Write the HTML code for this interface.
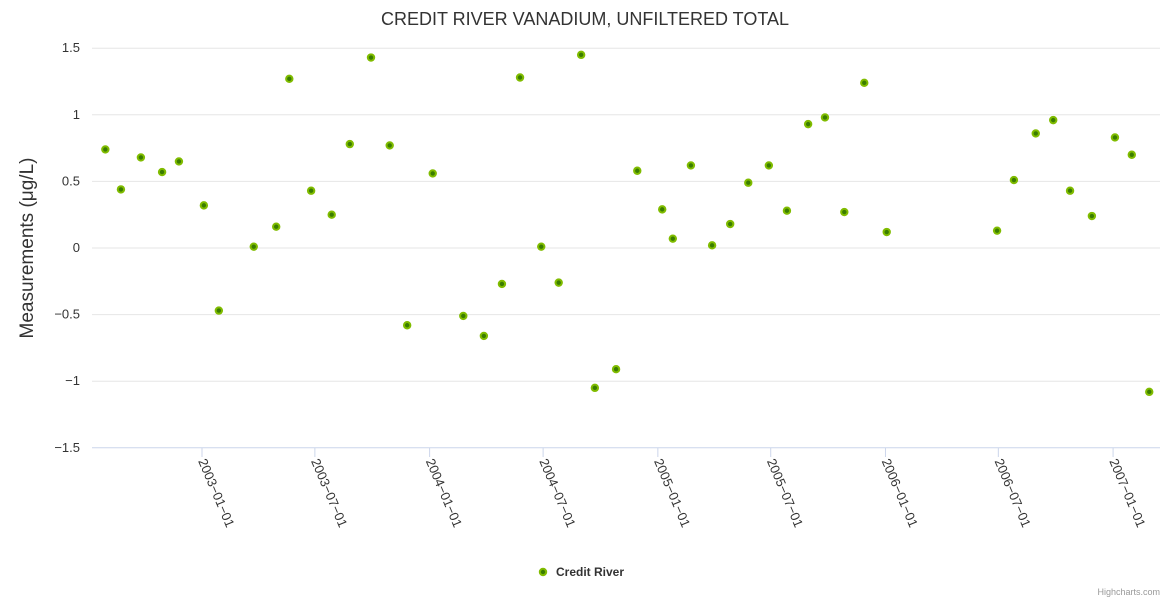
<!DOCTYPE html>
<html><head><meta charset="utf-8"><style>
body{margin:0;background:#fff;}
svg{display:block;font-family:"Liberation Sans",sans-serif;}
</style></head><body>
<svg id="chart" width="1170" height="600">
<text x="585" y="25" text-anchor="middle" font-size="18" fill="#333">CREDIT RIVER VANADIUM, UNFILTERED TOTAL</text>
<text transform="translate(33,248) rotate(-90)" text-anchor="middle" font-size="19" fill="#333">Measurements (μg/L)</text>
<g id="grid"></g><g id="xaxis"></g><g id="pts"></g>
<g>
<circle cx="543" cy="572" r="3.2" fill="#3a7d00" stroke="#80bc00" stroke-width="2"/>
<text x="556" y="576" font-size="12" font-weight="bold" fill="#333">Credit River</text></g>
<text x="1160" y="595" text-anchor="end" font-size="9" fill="#999">Highcharts.com</text>
</svg>
<script>
const dates=["2002-07-30","2002-08-24","2002-09-25","2002-10-29","2002-11-25","2003-01-04","2003-01-28","2003-03-25","2003-04-30","2003-05-21","2003-06-25","2003-07-28","2003-08-26","2003-09-29","2003-10-29","2003-11-26","2004-01-06","2004-02-24","2004-03-28","2004-04-26","2004-05-25","2004-06-28","2004-07-26","2004-08-31","2004-09-22","2004-10-26","2004-11-29","2005-01-08","2005-01-25","2005-02-23","2005-03-29","2005-04-27","2005-05-26","2005-06-28","2005-07-27","2005-08-30","2005-09-26","2005-10-27","2005-11-28","2006-01-03","2006-06-29","2006-07-26","2006-08-30","2006-09-27","2006-10-24","2006-11-28","2007-01-04","2007-01-31","2007-02-28"];
const values=[0.74,0.44,0.68,0.57,0.65,0.32,-0.47,0.01,0.16,1.27,0.43,0.25,0.78,1.43,0.77,-0.58,0.56,-0.51,-0.66,-0.27,1.28,0.01,-0.26,1.45,-1.05,-0.91,0.58,0.29,0.07,0.62,0.02,0.18,0.49,0.62,0.28,0.93,0.98,0.27,1.24,0.12,0.13,0.51,0.86,0.96,0.43,0.24,0.83,0.70,-1.08];
const yTicks=[1.5,1,0.5,0,-0.5,-1,-1.5];
const xTicks=["2003-01-01","2003-07-01","2004-01-01","2004-07-01","2005-01-01","2005-07-01","2006-01-01","2006-07-01","2007-01-01"];
const NS="http://www.w3.org/2000/svg";
const t0=Date.parse("2003-01-01");
function X(d){return 202+(Date.parse(d)-t0)/86400000*0.6236;}
function Y(v){return 248-v*133.2;}
const grid=document.getElementById('grid'),xa=document.getElementById('xaxis'),pts=document.getElementById('pts');
yTicks.forEach(v=>{
 const l=document.createElementNS(NS,'line');
 
 
 l.setAttribute('x1',92);l.setAttribute('x2',1160);l.setAttribute('y1',Y(v));l.setAttribute('y2',Y(v));
 l.setAttribute('stroke',v===-1.5?'#ccd6eb':'#e6e6e6');grid.appendChild(l);
 const t=document.createElementNS(NS,'text');
 
 
 t.setAttribute('x',80);t.setAttribute('y',Y(v)+4);t.setAttribute('text-anchor','end');
 t.setAttribute('font-size','13');t.setAttribute('fill','#333');
 t.textContent=String(v).replace('-','−');grid.appendChild(t);
});
xTicks.forEach(d=>{
 const x=X(d);
 const l=document.createElementNS(NS,'line');
 
 
 l.setAttribute('x1',x);l.setAttribute('x2',x);l.setAttribute('y1',448);l.setAttribute('y2',457);
 l.setAttribute('stroke','#ccd6eb');xa.appendChild(l);
 const t=document.createElementNS(NS,'text');
 
 
 t.setAttribute('transform','translate('+(x-4)+',461) rotate(67)');
 t.setAttribute('font-size','13');t.setAttribute('fill','#333');
 t.textContent=d.replace(/-/g,'−');xa.appendChild(t);
});
dates.forEach((d,i)=>{
 const c=document.createElementNS(NS,'circle');
 
 
 c.setAttribute('cx',X(d));c.setAttribute('cy',Y(values[i]));c.setAttribute('r',3.2);
 c.setAttribute('fill','#3a7d00');c.setAttribute('stroke','#80bc00');c.setAttribute('stroke-width','2');
 pts.appendChild(c);
});
</script>
</body></html>
